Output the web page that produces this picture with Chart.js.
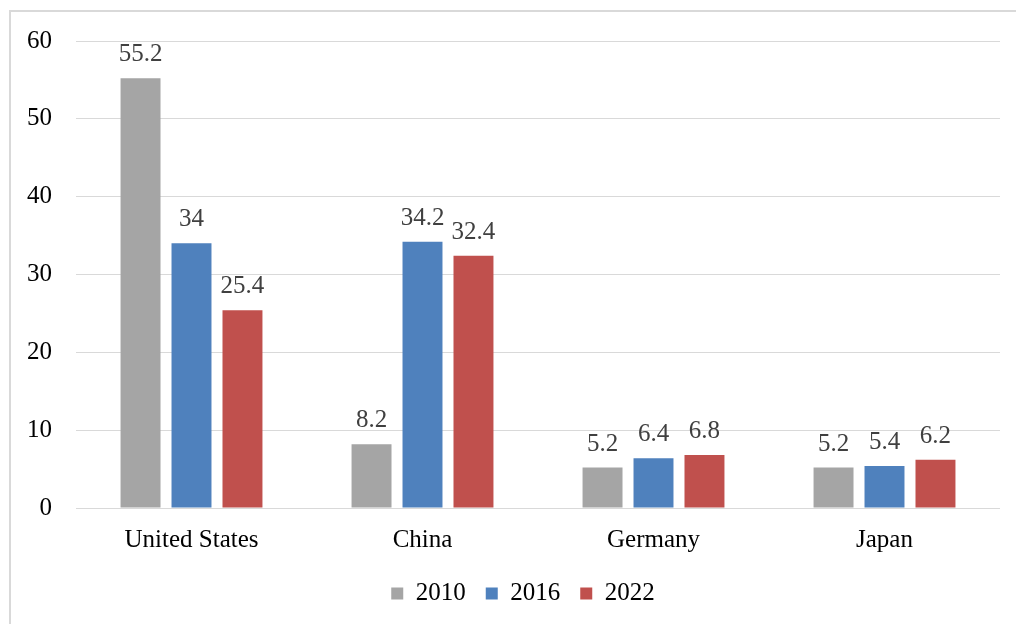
<!DOCTYPE html>
<html>
<head>
<meta charset="utf-8">
<script src="https://cdn.jsdelivr.net/npm/chart.js@4.4.1/dist/chart.umd.min.js"></script>
<style>
  html, body { margin: 0; padding: 0; background: #fff; }
  #wrap { position: relative; width: 1016px; height: 624px; }
  #frame { position: absolute; left: 9px; top: 10px; right: 0; bottom: 0;
           border-left: 2px solid #d9d9d9; border-top: 2px solid #d9d9d9; pointer-events: none; }
</style>
</head>
<body>
<div id="wrap">
  <canvas id="chart" width="1016" height="624"></canvas>
  <div id="frame"></div>
</div>
<script>
// Datos
const categories = ['United States', 'China', 'Germany', 'Japan'];
const years = ['2010', '2016', '2022'];
const values2010 = [55.2, 8.2, 5.2, 5.2];
const values2016 = [34, 34.2, 6.4, 5.4];
const values2022 = [25.4, 32.4, 6.8, 6.2];
const yTicks = [0, 10, 20, 30, 40, 50, 60];

const COLORS = ['#a5a5a5', '#4f81bd', '#c0504d'];
const FONT = 'Liberation Serif';

// Etiquetas de valor encima de cada barra
const valueLabels = {
  id: 'valueLabels',
  afterDatasetsDraw(chart) {
    const ctx = chart.ctx;
    ctx.save();
    ctx.font = '25px "' + FONT + '"';
    ctx.fillStyle = '#404040';
    ctx.textAlign = 'center';
    ctx.textBaseline = 'alphabetic';
    chart.data.datasets.forEach((ds, i) => {
      chart.getDatasetMeta(i).data.forEach((bar, j) => {
        ctx.fillText(String(ds.data[j]), bar.x, bar.y - 17);
      });
    });
    ctx.restore();
  }
};

// La leyenda va centrada bajo el área de trazado, no bajo todo el lienzo
const shiftLegend = {
  id: 'shiftLegend',
  afterLayout(chart) {
    chart.legend.left += 23;
    chart.legend.right += 23;
  }
};

new Chart(document.getElementById('chart'), {
  type: 'bar',
  data: {
    labels: categories,
    datasets: [values2010, values2016, values2022].map((d, i) => ({
      label: years[i],
      data: d,
      backgroundColor: COLORS[i],
      borderWidth: 0,
      categoryPercentage: 0.662,
      barPercentage: 0.784
    }))
  },
  options: {
    responsive: false,
    animation: false,
    layout: { padding: { left: 0, right: 16, top: 41, bottom: 8 } },
    plugins: {
      legend: {
        position: 'bottom',
        labels: {
          font: { family: FONT, size: 25 },
          color: '#000',
          boxWidth: 12,
          boxHeight: 12,
          padding: 20
        }
      },
      tooltip: { enabled: false }
    },
    scales: {
      x: {
        grid: { display: false },
        border: { display: false },
        ticks: { font: { family: FONT, size: 25 }, color: '#000', padding: 9, maxRotation: 0 },
        afterFit: s => { s.height = 53; }
      },
      y: {
        min: 0,
        max: 60,
        afterBuildTicks: s => { s.ticks = yTicks.map(v => ({ value: v })); },
        grid: { color: '#d9d9d9', drawTicks: false },
        border: { display: false },
        ticks: { font: { family: FONT, size: 25 }, color: '#000', padding: 24 },
        afterFit: s => { s.width = 76; }
      }
    }
  },
  plugins: [valueLabels, shiftLegend]
});
</script>
</body>
</html>
